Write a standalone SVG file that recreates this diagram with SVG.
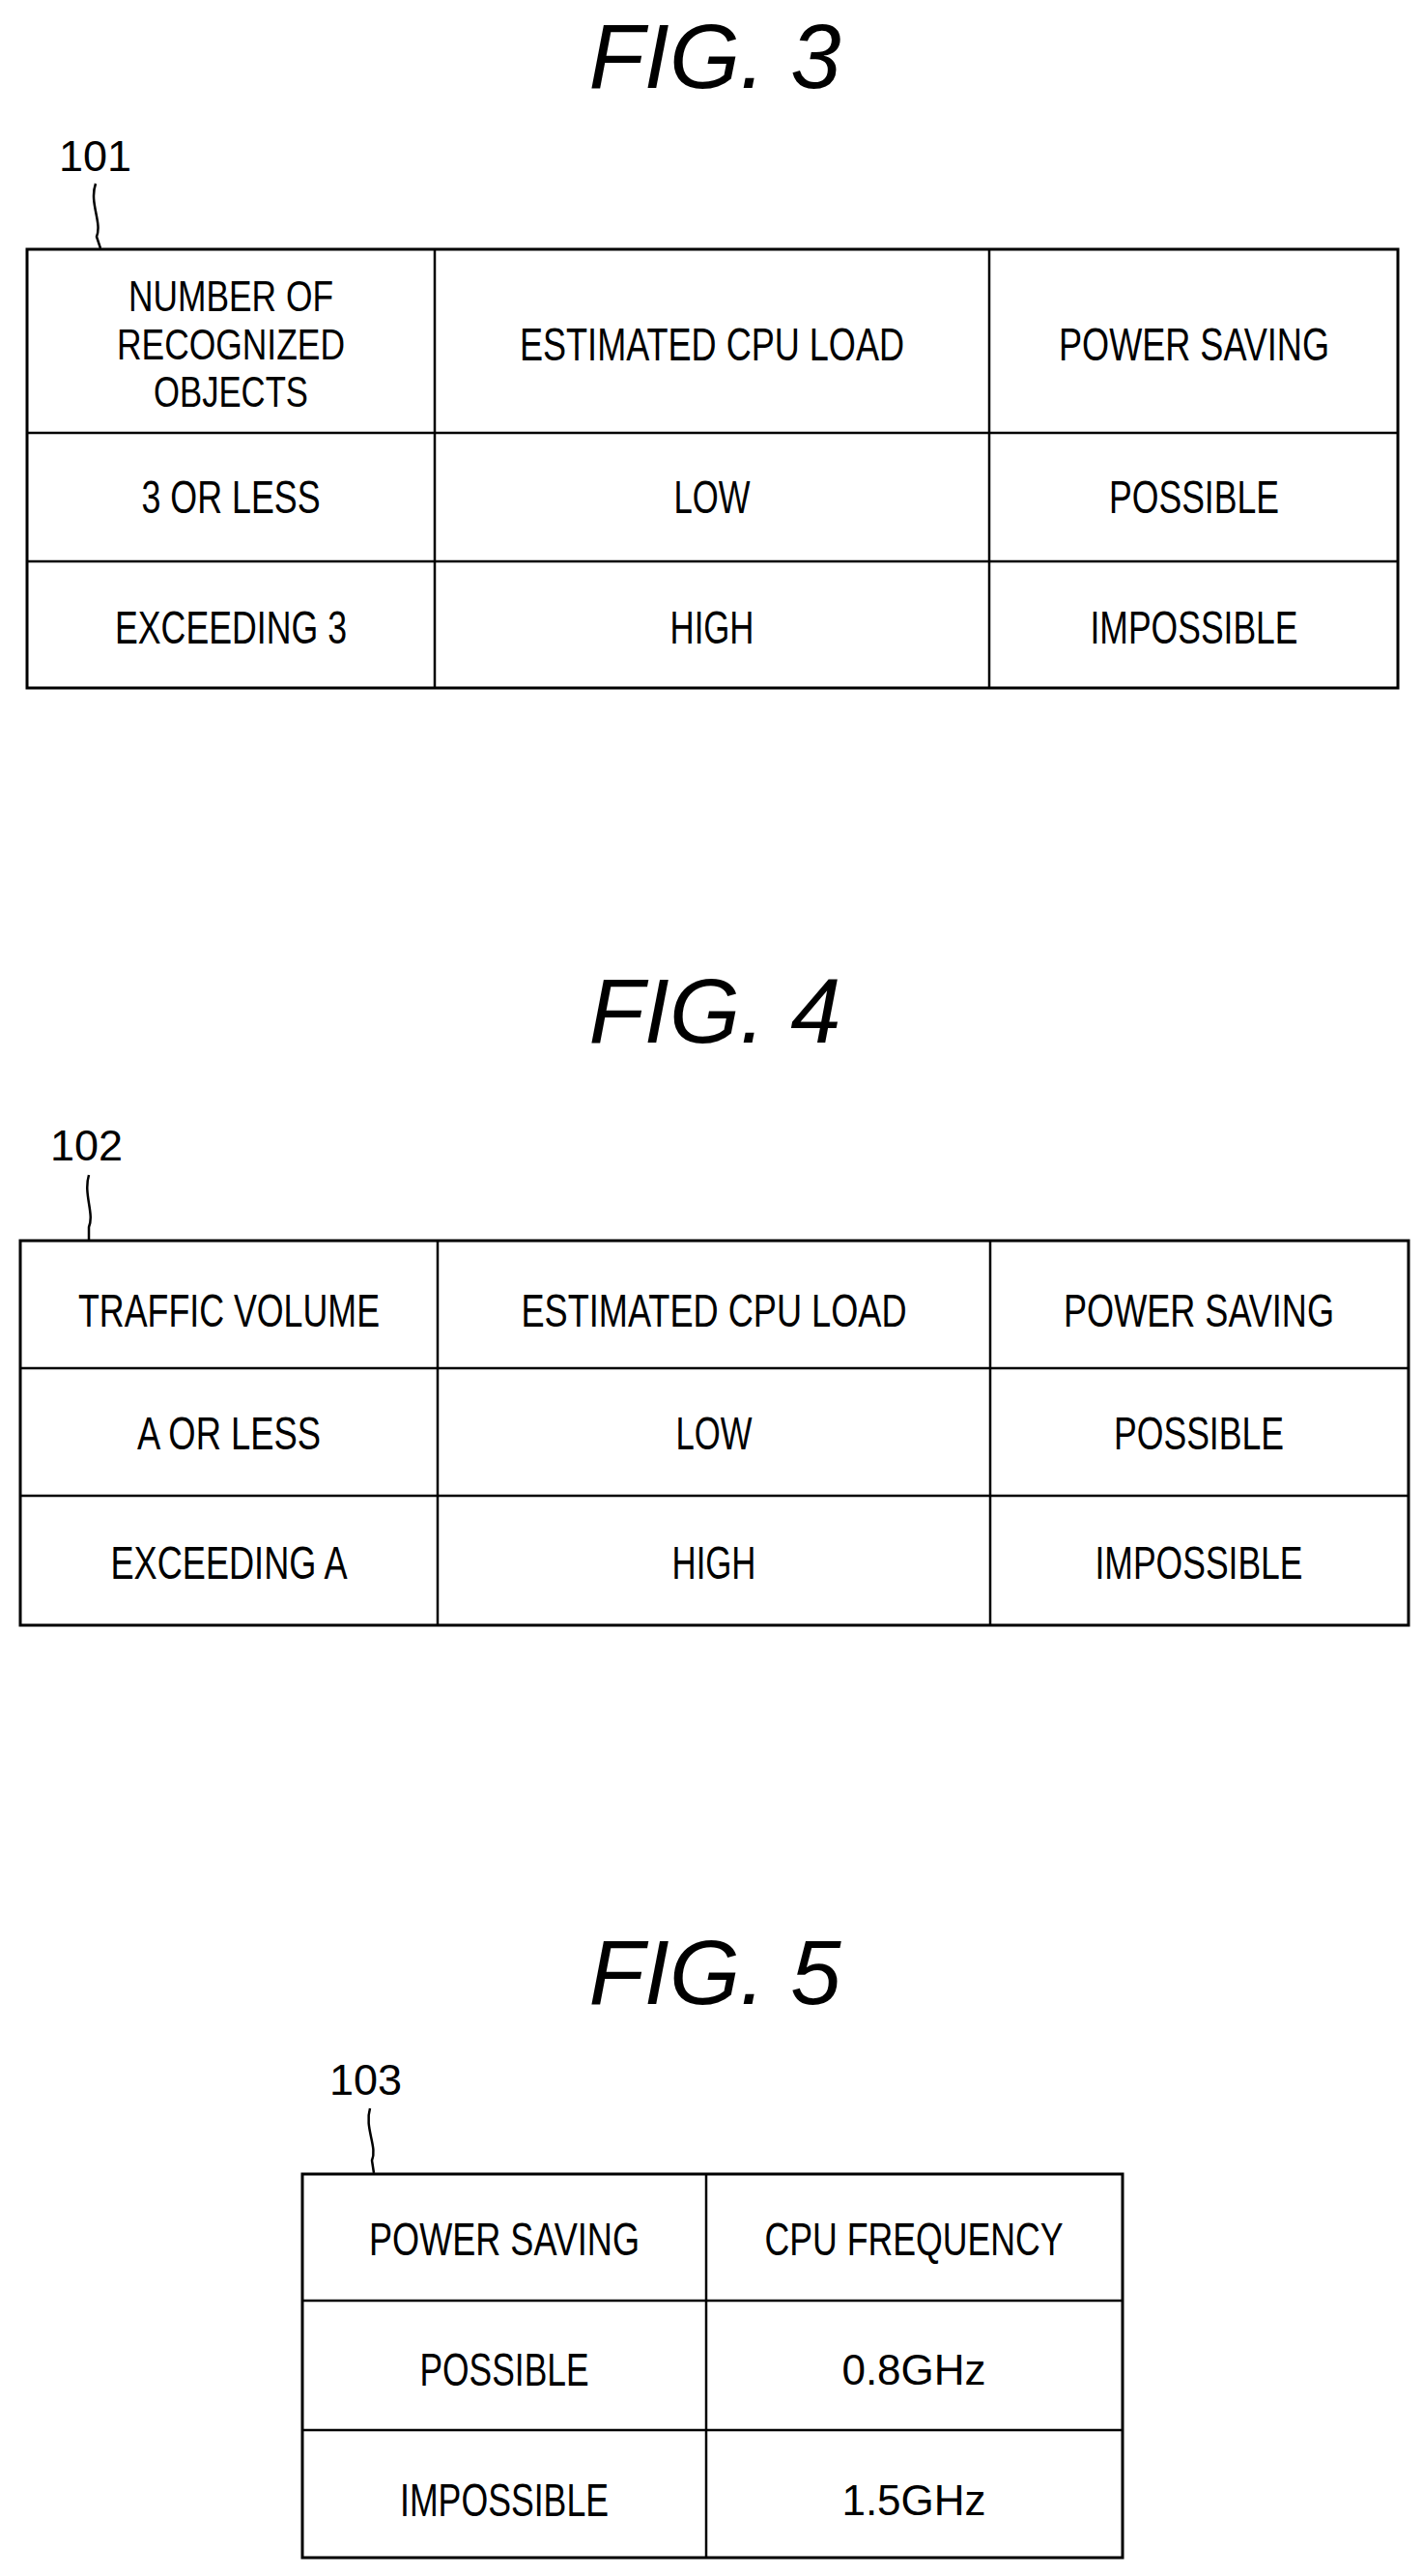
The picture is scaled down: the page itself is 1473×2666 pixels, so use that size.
<svg xmlns="http://www.w3.org/2000/svg" width="1473" height="2666" viewBox="0 0 1473 2666">
<style>
.t{font-family:"Liberation Sans",Arial,sans-serif;font-size:48px;text-anchor:middle;fill:#000}
.f{font-family:"Liberation Sans",Arial,sans-serif;font-size:94px;font-style:italic;text-anchor:middle;fill:#000}
.r{font-family:"Liberation Sans",Arial,sans-serif;font-size:45px;fill:#000}
.b{fill:none;stroke:#000;stroke-width:3}
.l{stroke:#000;stroke-width:2.5;fill:none}
</style>
<rect width="1473" height="2666" fill="#fff"/>
<g id="fig3">
<text class="f" x="740" y="91">FIG. 3</text>
<text class="r" x="61" y="177">101</text>
<path class="l" d="M99 190 C92 210 106 230 100 245 L104 257"/>
<rect class="b" x="28" y="258" width="1419" height="454"/>
<path class="l" d="M28 448H1447M28 581H1447M450 258V712M1024 258V712"/>
<text class="t" x="239" y="322" textLength="212" lengthAdjust="spacingAndGlyphs" style="font-size:44px">NUMBER OF</text>
<text class="t" x="239" y="372" textLength="236" lengthAdjust="spacingAndGlyphs" style="font-size:44px">RECOGNIZED</text>
<text class="t" x="239" y="421" textLength="160" lengthAdjust="spacingAndGlyphs" style="font-size:44px">OBJECTS</text>
<text class="t" x="737" y="373" textLength="398" lengthAdjust="spacingAndGlyphs">ESTIMATED CPU LOAD</text>
<text class="t" x="1236" y="373" textLength="280" lengthAdjust="spacingAndGlyphs">POWER SAVING</text>
<text class="t" x="239" y="531" textLength="185" lengthAdjust="spacingAndGlyphs">3 OR LESS</text>
<text class="t" x="737" y="531" textLength="79" lengthAdjust="spacingAndGlyphs">LOW</text>
<text class="t" x="1236" y="531" textLength="176" lengthAdjust="spacingAndGlyphs">POSSIBLE</text>
<text class="t" x="239" y="666" textLength="240" lengthAdjust="spacingAndGlyphs">EXCEEDING 3</text>
<text class="t" x="737" y="666" textLength="87" lengthAdjust="spacingAndGlyphs">HIGH</text>
<text class="t" x="1236" y="666" textLength="215" lengthAdjust="spacingAndGlyphs">IMPOSSIBLE</text>
</g>
<g id="fig4">
<text class="f" x="740" y="1079">FIG. 4</text>
<text class="r" x="52" y="1201">102</text>
<path class="l" d="M92 1216 C86 1236 98 1256 92 1270 L92 1283"/>
<rect class="b" x="21" y="1284" width="1437" height="398"/>
<path class="l" d="M21 1416H1458M21 1548H1458M453 1284V1682M1025 1284V1682"/>
<text class="t" x="237" y="1373" textLength="312" lengthAdjust="spacingAndGlyphs">TRAFFIC VOLUME</text>
<text class="t" x="739" y="1373" textLength="399" lengthAdjust="spacingAndGlyphs">ESTIMATED CPU LOAD</text>
<text class="t" x="1241" y="1373" textLength="280" lengthAdjust="spacingAndGlyphs">POWER SAVING</text>
<text class="t" x="237" y="1500" textLength="190" lengthAdjust="spacingAndGlyphs">A OR LESS</text>
<text class="t" x="739" y="1500" textLength="79" lengthAdjust="spacingAndGlyphs">LOW</text>
<text class="t" x="1241" y="1500" textLength="176" lengthAdjust="spacingAndGlyphs">POSSIBLE</text>
<text class="t" x="237" y="1634" textLength="245" lengthAdjust="spacingAndGlyphs">EXCEEDING A</text>
<text class="t" x="739" y="1634" textLength="87" lengthAdjust="spacingAndGlyphs">HIGH</text>
<text class="t" x="1241" y="1634" textLength="215" lengthAdjust="spacingAndGlyphs">IMPOSSIBLE</text>
</g>
<g id="fig5">
<text class="f" x="740" y="2074">FIG. 5</text>
<text class="r" x="341" y="2168">103</text>
<path class="l" d="M383 2182 C377 2202 391 2222 385 2236 L387 2249"/>
<rect class="b" x="313" y="2250" width="849" height="397"/>
<path class="l" d="M313 2381H1162M313 2515H1162M731 2250V2647"/>
<text class="t" x="522" y="2334" textLength="280" lengthAdjust="spacingAndGlyphs">POWER SAVING</text>
<text class="t" x="946" y="2334" textLength="309" lengthAdjust="spacingAndGlyphs">CPU FREQUENCY</text>
<text class="t" x="522" y="2469" textLength="175" lengthAdjust="spacingAndGlyphs">POSSIBLE</text>
<text class="t" x="946" y="2468" style="font-size:44px">0.8GHz</text>
<text class="t" x="522" y="2604" textLength="216" lengthAdjust="spacingAndGlyphs">IMPOSSIBLE</text>
<text class="t" x="946" y="2603" style="font-size:44px">1.5GHz</text>
</g>
</svg>
